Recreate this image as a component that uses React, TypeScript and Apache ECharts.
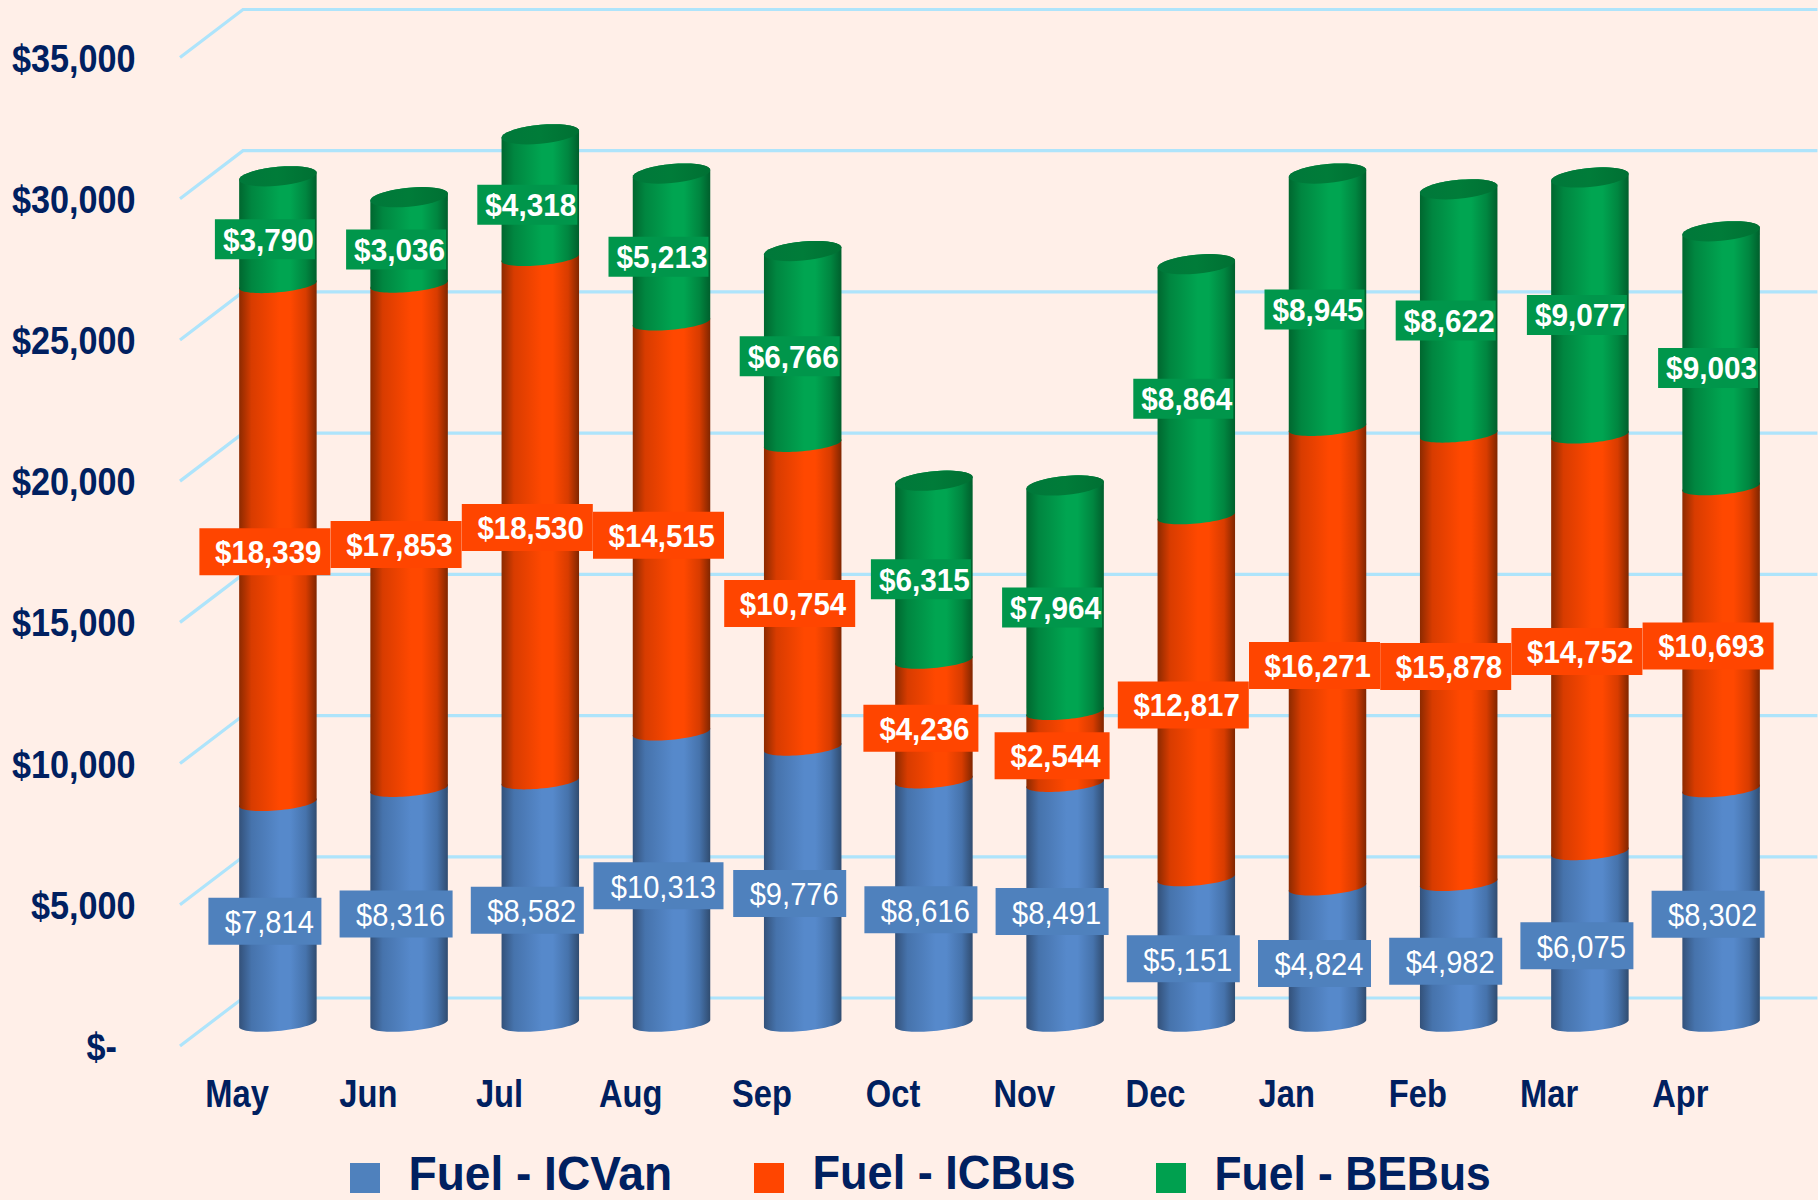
import React, { useEffect, useRef } from "react";
import * as echarts from "echarts";

const months = ["May", "Jun", "Jul", "Aug", "Sep", "Oct", "Nov", "Dec", "Jan", "Feb", "Mar", "Apr"];
const fuelICVan = [7814, 8316, 8582, 10313, 9776, 8616, 8491, 5151, 4824, 4982, 6075, 8302];
const fuelICBus = [18339, 17853, 18530, 14515, 10754, 4236, 2544, 12817, 16271, 15878, 14752, 10693];
const fuelBEBus = [3790, 3036, 4318, 5213, 6766, 6315, 7964, 8864, 8945, 8622, 9077, 9003];
const yTicks = [0, 5000, 10000, 15000, 20000, 25000, 30000, 35000];

const FONT = '"Liberation Sans", Arial, sans-serif';
const NAVY = "#002060";

const fmt = (v: number) => "$" + v.toLocaleString("en-US");

const cylinderStops = (edge: string, mid: string, hi: string, edge2: string) => [
  { offset: 0, color: edge },
  { offset: 0.16, color: mid },
  { offset: 0.52, color: hi },
  { offset: 0.66, color: hi },
  { offset: 0.86, color: mid },
  { offset: 1, color: edge2 },
];

const seriesDefs = [
  {
    name: "Fuel - ICVan", values: fuelICVan, legend: "#4F81BD", label: "#4F81BD",
    stops: cylinderStops("#33517A", "#4673AC", "#5689CB", "#304C70"),
    weight: "normal", narrow: 113, wide: 130, h: 47, pad: 7.5, sx: 0.91, legendSx: 0.96,
  },
  {
    name: "Fuel - ICBus", values: fuelICBus, legend: "#FF4500", label: "#FF4500",
    stops: cylinderStops("#8C2A00", "#D83C00", "#FF4800", "#802600"),
    weight: "bold", narrow: 115, wide: 131, h: 47, pad: 9, sx: 0.92, legendSx: 0.94,
  },
  {
    name: "Fuel - BEBus", values: fuelBEBus, legend: "#00A04F", label: "#00964B",
    stops: cylinderStops("#00672F", "#008640", "#00A551", "#005F2C"),
    weight: "bold", narrow: 100, wide: 116, h: 40, pad: 1, sx: 0.93, legendSx: 0.925,
  },
];

const DEPTH_X = 63;
const DEPTH_Y = -48;
const CYL_X = DEPTH_X / 2 + 0.8;
const CYL_Y = DEPTH_Y / 2 + 1.5;
const RADIUS = 38.75;

function arc(cx: number, cy: number, b: number, s: number, from: number, to: number) {
  const pts: number[][] = [];
  const n = 36;
  for (let i = 0; i <= n; i++) {
    const t = from + ((to - from) * i) / n;
    pts.push([cx + RADIUS * Math.cos(t), cy + b * Math.sin(t) + s * Math.cos(t)]);
  }
  return pts;
}

function makeSeries(def: (typeof seriesDefs)[number], idx: number) {
  const rows = def.values.map((v, i) => {
    let base = 0;
    for (let k = 0; k < idx; k++) base += seriesDefs[k].values[i];
    return [i, base + v, base, v];
  });
  const isTop = idx === seriesDefs.length - 1;
  return {
    type: "custom",
    name: def.name,
    z: 2,
    itemStyle: { color: def.legend },
    encode: { x: 0, y: 1 },
    data: rows,
    renderItem: (_p: any, api: any) => {
      const top = api.value(1);
      const base = api.value(2);
      const v = api.value(3);
      const pTop = api.coord([api.value(0), top]);
      const pBase = api.coord([api.value(0), base]);
      const pMid = api.coord([api.value(0), base + v / 2]);
      const cx = pTop[0] + CYL_X;
      const yTop = pTop[1] + CYL_Y;
      const yBase = pBase[1] + CYL_Y;
      const capY = yTop - 1.5;
      const lower = arc(cx, yBase, 7.5, -3.5, Math.PI, 0);
      const upper = isTop
        ? arc(cx, capY, 9.5, -3.5, 0, -Math.PI)
        : arc(cx, yTop, 7.5, -3.5, 0, -Math.PI);
      const children: any[] = [
        {
          type: "polygon",
          shape: { points: lower.concat(upper) },
          style: { fill: new echarts.graphic.LinearGradient(0, 0, 1, 0, def.stops) },
        },
      ];
      if (isTop) {
        children.push({
          type: "polygon",
          shape: { points: arc(cx, capY, 9.5, -3.5, 0, Math.PI * 2) },
          style: {
            fill: new echarts.graphic.LinearGradient(0, 0, 1, 0, [
              { offset: 0, color: "#00783A" },
              { offset: 0.5, color: "#007C39" },
              { offset: 1, color: "#007033" },
            ]),
          },
        });
      }
      const w = v >= 10000 ? def.wide : def.narrow;
      const lcx = cx - 13;
      const lcy = pMid[1] + CYL_Y + 8;
      children.push({
        type: "rect",
        z2: 100,
        shape: { x: lcx - w / 2, y: lcy - def.h / 2, width: w, height: def.h },
        style: { fill: def.label },
      });
      children.push({
        type: "text",
        z2: 101,
        x: lcx + w / 2 - def.pad,
        y: lcy + 0.5,
        scaleX: def.sx,
        style: {
          text: fmt(v),
          fill: "#FFFFFF",
          font: `${def.weight} 32px ${FONT}`,
          align: "right",
          verticalAlign: "middle",
        },
      });
      return { type: "group", children };
    },
  };
}

const wallSeries = {
  type: "custom",
  name: "wall",
  z: 1,
  silent: true,
  encode: { x: 0, y: 1 },
  data: yTicks.map((t) => [0, t]),
  renderItem: (params: any, api: any) => {
    const band = api.size([1, 0])[0];
    const p = api.coord([0, api.value(1)]);
    const fx = p[0] - band / 2;
    const bx = fx + DEPTH_X;
    const by = p[1] + DEPTH_Y;
    const ex = params.coordSys.x + params.coordSys.width + DEPTH_X;
    return {
      type: "polyline",
      shape: { points: [[fx, p[1]], [bx, by], [ex, by]] },
      style: { stroke: "#AEE4FB", lineWidth: 3.2, fill: "none" },
    };
  },
};

const yLabelSeries = {
  type: "custom",
  name: "yLabels",
  z: 3,
  silent: true,
  encode: { x: 0, y: 1 },
  data: yTicks.map((t) => [0, t]),
  renderItem: (_params: any, api: any) => {
    const band = api.size([1, 0])[0];
    const v = api.value(1);
    const p = api.coord([0, v]);
    return {
      type: "text",
      x: p[0] - band / 2 - (v === 0 ? 63 : 44.5),
      y: p[1] + 1,
      scaleX: 0.9,
      style: {
        text: v === 0 ? "$-" : fmt(v),
        fill: NAVY,
        font: `bold 38px ${FONT}`,
        align: "right",
        verticalAlign: "middle",
      },
    };
  },
};

const xLabelSeries = {
  type: "custom",
  name: "xLabels",
  z: 3,
  silent: true,
  encode: { x: 0, y: 1 },
  data: months.map((_m, i) => [i, 0]),
  renderItem: (params: any, api: any) => {
    const p = api.coord([api.value(0), 0]);
    return {
      type: "text",
      x: p[0] - 8.5,
      y: p[1] + 48,
      scaleX: 0.86,
      style: {
        text: months[params.dataIndex],
        fill: NAVY,
        font: `bold 38px ${FONT}`,
        align: "center",
        verticalAlign: "middle",
      },
    };
  },
};

const legendX = [350, 754, 1156];
const legendGraphic = seriesDefs.flatMap((d, i) => [
  {
    type: "rect",
    shape: { x: legendX[i], y: 1163, width: 30, height: 30 },
    style: { fill: d.legend },
  },
  {
    type: "text",
    x: legendX[i] + 58.5,
    y: 1173,
    scaleX: d.legendSx,
    style: {
      text: d.name,
      fill: NAVY,
      font: `bold 48px ${FONT}`,
      align: "left",
      verticalAlign: "middle",
    },
  },
]);

export default function App() {
  const ref = useRef<HTMLDivElement>(null);
  useEffect(() => {
    const chart = echarts.init(ref.current!, undefined, { renderer: "svg" });
    chart.setOption({
      animation: false,
      backgroundColor: "#FFEFE8",
      grid: { left: 180, top: 57.5, width: 1574.4, height: 988.5, containLabel: false, outerBoundsMode: "none" },
      xAxis: {
        type: "category",
        data: months,
        axisLine: { show: false },
        axisTick: { show: false },
        axisLabel: { show: false },
      },
      yAxis: {
        type: "value",
        min: 0,
        max: 35000,
        interval: 5000,
        axisLine: { show: false },
        axisTick: { show: false },
        splitLine: { show: false },
        axisLabel: { show: false },
      },
      graphic: legendGraphic,
      series: [wallSeries, yLabelSeries, xLabelSeries, ...seriesDefs.map(makeSeries)],
    });
    return () => chart.dispose();
  }, []);
  return (
    <div
      ref={ref}
      style={{ position: "absolute", left: 0, top: 0, width: 1818, height: 1200 }}
    />
  );
}
